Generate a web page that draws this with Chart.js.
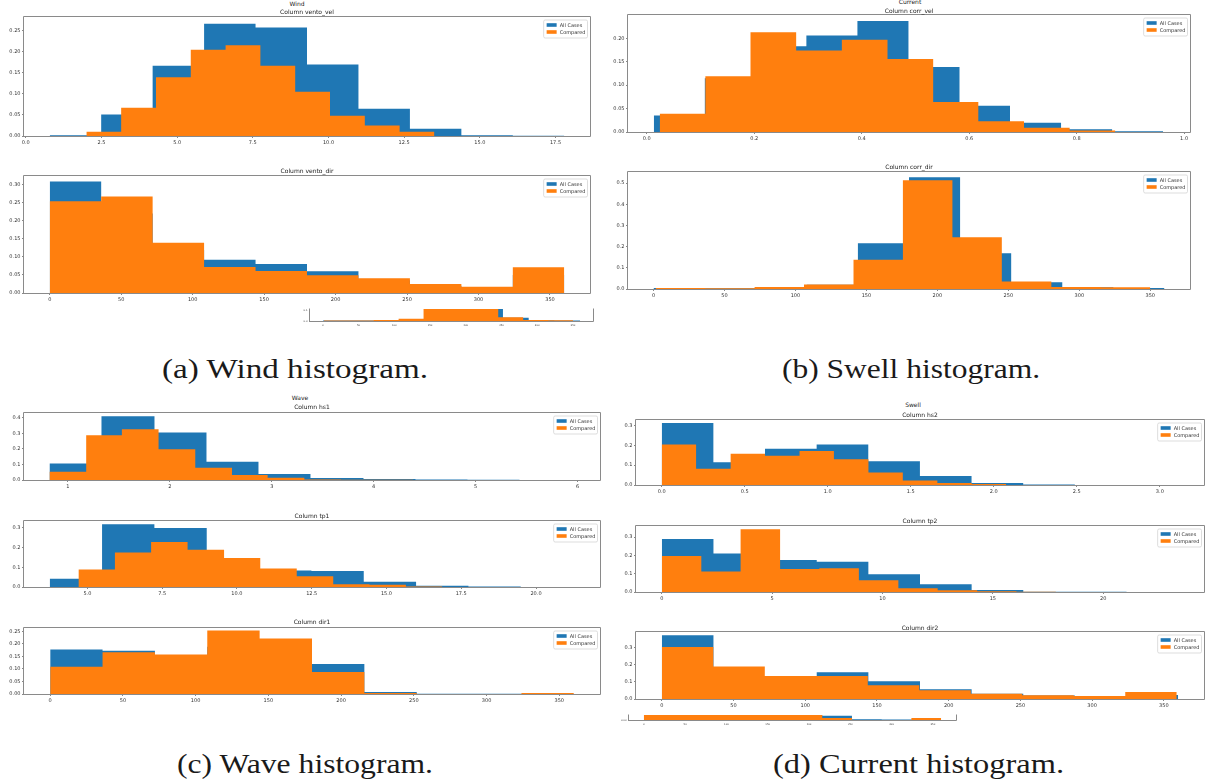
<!DOCTYPE html>
<html>
<head>
<meta charset="utf-8">
<script src="https://cdn.jsdelivr.net/npm/chart.js@4.4.1/dist/chart.umd.min.js"></script>
<style>
  html, body { margin: 0; padding: 0; background: #fff; }
  body { width: 1208px; height: 783px; position: relative; overflow: hidden; font-family: "DejaVu Sans", sans-serif; }
  canvas { position: absolute; }
  .t { position: absolute; transform: translate(-50%, -50%); white-space: nowrap; color: #222; line-height: 1; font-family: "DejaVu Sans", sans-serif; }
  .cap { position: absolute; white-space: nowrap; font-family: "Liberation Serif", serif; font-size: 28px; line-height: 28px; color: #1a1a1a; transform-origin: 0 0; }
</style>
</head>
<body>
<script>
// ---- series names -------------------------------------------------------
const seriesNames = ['All Cases', 'Compared'];

// ---- Wind: vento_vel (bin edges and fraction per bin) --------------------
const windVelEdgesAll = [0.79, 2.49, 4.19, 5.89, 7.59, 9.29, 10.99, 12.69, 14.39, 16.09, 17.79];
const windVelAll      = [0.002, 0.051, 0.167, 0.267, 0.258, 0.170, 0.065, 0.017, 0.002, 0.0005];
const windVelEdgesCmp = [2.0, 3.15, 4.3, 5.45, 6.6, 7.75, 8.9, 10.05, 11.2, 12.35, 13.5];
const windVelCmp      = [0.010, 0.067, 0.140, 0.205, 0.216, 0.167, 0.105, 0.048, 0.025, 0.010];

// ---- Wind: vento_dir ------------------------------------------------------
const dirEdges   = [0, 36, 72, 108, 144, 180, 216, 252, 288, 324, 360];
const windDirAll = [0.309, 0.220, 0.120, 0.092, 0.080, 0.060, 0.035, 0.020, 0.014, 0.050];
const windDirCmp = [0.254, 0.267, 0.139, 0.072, 0.061, 0.049, 0.041, 0.025, 0.017, 0.071];

// ---- Current: corr_vel ----------------------------------------------------
const corrVelEdgesAll = [0.013, 0.108, 0.203, 0.297, 0.392, 0.487, 0.582, 0.676, 0.771, 0.866, 0.961];
const corrVelAll      = [0.035, 0.115, 0.183, 0.206, 0.237, 0.139, 0.056, 0.020, 0.006, 0.0015];
const corrVelEdgesCmp = [0.024, 0.109, 0.193, 0.278, 0.363, 0.448, 0.533, 0.617, 0.702, 0.787, 0.872];
const corrVelCmp      = [0.039, 0.119, 0.213, 0.174, 0.197, 0.156, 0.064, 0.023, 0.009, 0.003];

// ---- Current: corr_dir ----------------------------------------------------
const corrDirAll      = [0.005, 0.004, 0.008, 0.020, 0.216, 0.527, 0.169, 0.032, 0.008, 0.005];
const corrDirEdgesCmp = [1.5, 36.3, 71.2, 106.0, 140.9, 175.7, 210.6, 245.4, 280.3, 315.1, 350.0];
const corrDirCmp      = [0.005, 0.004, 0.009, 0.021, 0.138, 0.513, 0.244, 0.035, 0.010, 0.008];

// ---- Wave: hs1 ------------------------------------------------------------
const hs1EdgesAll = [0.82, 1.33, 1.85, 2.36, 2.87, 3.38, 3.90, 4.41, 4.92, 5.43, 5.94];
const hs1All      = [0.107, 0.411, 0.306, 0.118, 0.0385, 0.013, 0.006, 0.003, 0.001, 0.0005];
const hs1EdgesCmp = [0.82, 1.18, 1.53, 1.89, 2.25, 2.61, 2.96, 3.32, 3.68, 4.03, 4.39];
const hs1Cmp      = [0.053, 0.289, 0.327, 0.199, 0.079, 0.032, 0.015, 0.003, 0.001, 0.001];

// ---- Wave: tp1 ------------------------------------------------------------
const tp1EdgesAll = [3.74, 5.49, 7.24, 8.99, 10.74, 12.49, 14.24, 15.99, 17.74, 19.49, 21.24];
const tp1All      = [0.042, 0.317, 0.298, 0.143, 0.083, 0.081, 0.027, 0.0067, 0.002, 0.0005];
const tp1EdgesCmp = [4.70, 5.92, 7.13, 8.35, 9.57, 10.78, 12.00, 13.22, 14.43, 15.65, 16.87];
const tp1Cmp      = [0.089, 0.174, 0.228, 0.189, 0.147, 0.094, 0.054, 0.0135, 0.012, 0.003];

// ---- Wave: dir1 -----------------------------------------------------------
const dir1All = [0.177, 0.172, 0.145, 0.188, 0.187, 0.120, 0.008, 0.0013, 0.001, 0.001];
const dir1Cmp = [0.109, 0.166, 0.157, 0.253, 0.221, 0.088, 0.004, 0, 0, 0.004];

// ---- Swell: hs2 -----------------------------------------------------------
const hs2EdgesAll = [0, 0.311, 0.622, 0.933, 1.244, 1.555, 1.866, 2.177, 2.488, 2.799, 3.11];
const hs2All      = [0.313, 0.115, 0.183, 0.205, 0.120, 0.045, 0.010, 0.002, 0.0005, 0.0005];
const hs2EdgesCmp = [0, 0.207, 0.415, 0.622, 0.830, 1.037, 1.245, 1.452, 1.660, 1.867, 2.075];
const hs2Cmp      = [0.205, 0.082, 0.158, 0.147, 0.172, 0.130, 0.063, 0.023, 0.010, 0.005];

// ---- Swell: tp2 -----------------------------------------------------------
const tp2EdgesAll = [0, 2.34, 4.68, 7.02, 9.36, 11.70, 14.04, 16.38, 18.72, 21.06, 23.40];
const tp2All      = [0.289, 0.210, 0.174, 0.165, 0.097, 0.042, 0.011, 0.001, 0.0008, 0.0002];
const tp2EdgesCmp = [0, 1.79, 3.57, 5.36, 7.14, 8.93, 10.72, 12.50, 14.29, 16.07, 17.86];
const tp2Cmp      = [0.196, 0.112, 0.342, 0.126, 0.130, 0.064, 0.020, 0.009, 0.004, 0.002];

// ---- Swell: dir2 ----------------------------------------------------------
const dir2EdgesCmp = [0, 35.9, 71.8, 107.7, 143.6, 179.5, 215.4, 251.3, 287.2, 323.1, 359];
const dir2All = [0.373, 0.120, 0.100, 0.157, 0.104, 0.057, 0.030, 0.020, 0.015, 0.024];
const dir2Cmp = [0.304, 0.190, 0.135, 0.135, 0.080, 0.051, 0.031, 0.022, 0.018, 0.041];

// ---- tick positions and labels ---------------------------------------------
const windVelXTicks = [0, 2.5, 5, 7.5, 10, 12.5, 15, 17.5];
const windVelXLabels = ['0.0', '2.5', '5.0', '7.5', '10.0', '12.5', '15.0', '17.5'];
const dirXTicks = [0, 50, 100, 150, 200, 250, 300, 350];
const dirXLabels = ['0', '50', '100', '150', '200', '250', '300', '350'];
const corrVelXTicks = [0, 0.2, 0.4, 0.6, 0.8, 1.0];
const corrVelXLabels = ['0.0', '0.2', '0.4', '0.6', '0.8', '1.0'];
const hs1XTicks = [1, 2, 3, 4, 5, 6];
const hs1XLabels = ['1', '2', '3', '4', '5', '6'];
const tp1XTicks = [5, 7.5, 10, 12.5, 15, 17.5, 20];
const tp1XLabels = ['5.0', '7.5', '10.0', '12.5', '15.0', '17.5', '20.0'];
const hs2XTicks = [0, 0.5, 1, 1.5, 2, 2.5, 3];
const hs2XLabels = ['0.0', '0.5', '1.0', '1.5', '2.0', '2.5', '3.0'];
const tp2XTicks = [0, 5, 10, 15, 20];
const tp2XLabels = ['0', '5', '10', '15', '20'];

const y025Ticks = [0, 0.05, 0.10, 0.15, 0.20, 0.25];
const y025Labels = ['0.00', '0.05', '0.10', '0.15', '0.20', '0.25'];
const y030Ticks = [0, 0.05, 0.10, 0.15, 0.20, 0.25, 0.30];
const y030Labels = ['0.00', '0.05', '0.10', '0.15', '0.20', '0.25', '0.30'];
const y020Ticks = [0, 0.05, 0.10, 0.15, 0.20];
const y020Labels = ['0.00', '0.05', '0.10', '0.15', '0.20'];
const y05Ticks = [0, 0.1, 0.2, 0.3, 0.4, 0.5];
const y05Labels = ['0.0', '0.1', '0.2', '0.3', '0.4', '0.5'];
const y04Ticks = [0, 0.1, 0.2, 0.3, 0.4];
const y04Labels = ['0.0', '0.1', '0.2', '0.3', '0.4'];
const y03Ticks = [0, 0.1, 0.2, 0.3];
const y03Labels = ['0.0', '0.1', '0.2', '0.3'];
const y01Ticks = [0, 0.1];
const y01Labels = ['0.0', '0.1'];
const y00Ticks = [0];
const y00Labels = ['0.00'];

// ---- titles and captions -------------------------------------------------
const titleTexts = ['Wind', 'Column vento_vel', 'Column vento_dir', 'Current', 'Column corr_vel', 'Column corr_dir',
                    'Wave', 'Column hs1', 'Column tp1', 'Column dir1', 'Swell', 'Column hs2', 'Column tp2', 'Column dir2'];
const captionTexts = ['(a) Wind histogram.', '(b) Swell histogram.', '(c) Wave histogram.', '(d) Current histogram.'];

// ============================================================================
const BLUE = '#1f77b4';
const ORANGE = '#ff7f0e';

// bin edges + per-bin values -> step outline points
function steps(edges, values) {
  const pts = values.map((v, i) => ({ x: edges[i], y: v }));
  pts.push({ x: edges[edges.length - 1], y: values[values.length - 1] });
  return pts;
}

function drawLegend(chart, fs) {
  const { ctx, chartArea: a } = chart;
  const ds = chart.data.datasets;
  ctx.save();
  ctx.font = fs + 'px "DejaVu Sans"';
  const tw = Math.max(...ds.map(d => ctx.measureText(d.label).width));
  const pad = 3, hl = 10, gap = 3, rowH = 7;
  const w = pad + hl + gap + tw + 2;
  const h = pad + rowH * ds.length + 1;
  const x = a.right - 2.5 - w, y = a.top + 3;
  ctx.beginPath();
  ctx.roundRect(x, y, w, h, 1.5);
  ctx.fillStyle = 'rgba(255,255,255,0.85)';
  ctx.fill();
  ctx.strokeStyle = '#d4d4d4';
  ctx.lineWidth = 0.8;
  ctx.stroke();
  ctx.textBaseline = 'middle';
  ds.forEach((d, i) => {
    const cy = y + pad + 2 + i * rowH;
    ctx.fillStyle = d.backgroundColor;
    ctx.fillRect(x + pad, cy - 1.8, hl, 3.6);
    ctx.fillStyle = '#333';
    ctx.fillText(d.label, x + pad + hl + gap, cy + 0.3);
  });
  ctx.restore();
}

// axes spines (open at the top for the clipped inset strips) and legend
const framePlugin = {
  id: 'frame',
  afterDatasetsDraw(chart, args, opts) {
    const { ctx, chartArea: a } = chart;
    if (opts.legend) drawLegend(chart, opts.legendFont);
    const l = Math.round(a.left) - 0.5, t = Math.round(a.top) - 0.5;
    const r = Math.round(a.right) + 0.5, b = Math.round(a.bottom) + 0.5;
    ctx.save();
    ctx.strokeStyle = '#8a8a8a';
    ctx.lineWidth = 1;
    ctx.beginPath();
    if (opts.openTop) {
      ctx.moveTo(l, t); ctx.lineTo(l, b); ctx.lineTo(r, b); ctx.lineTo(r, t);
    } else {
      ctx.rect(l, t, r - l, b - t);
    }
    ctx.stroke();
    ctx.restore();
  }
};

function axis(kind, min, max, ticks, labels, fs, tickLen, reserve) {
  return {
    type: 'linear',
    min, max,
    afterBuildTicks: s => { s.ticks = ticks.map(v => ({ value: v })); },
    ticks: {
      autoSkip: false, maxRotation: 0, minRotation: 0,
      padding: 1.5,
      color: '#333',
      font: { family: 'DejaVu Sans', size: fs },
      callback: v => labels[ticks.indexOf(v)]
    },
    grid: { display: true, drawOnChartArea: false, drawTicks: true, tickLength: tickLen, color: '#888', lineWidth: 1 },
    border: { display: false },
    afterFit: s => { if (kind === 'x') s.height = reserve; else s.width = reserve; }
  };
}

function panel(p) {
  const padL = p.small ? 14 : 24, padT = 6, padR = 10, padB = p.small ? 7 : 12;
  const [l, t, r, b] = p.box;
  const cv = document.createElement('canvas');
  const W = r - l + padL + padR, H = b - t + padT + padB;
  cv.width = W; cv.height = H;
  cv.style.left = (l - padL) + 'px';
  cv.style.top = (t - padT) + 'px';
  cv.style.width = W + 'px'; cv.style.height = H + 'px';
  document.body.appendChild(cv);
  const fs = p.small ? 2.5 : 5;
  const tl = p.small ? 1 : 2;
  new Chart(cv, {
    type: 'line',
    data: {
      datasets: [
        { label: seriesNames[0], data: steps(p.all[0], p.all[1]), stepped: true, fill: 'origin',
          backgroundColor: BLUE, borderColor: 'rgba(0,0,0,0)', borderWidth: 0, pointRadius: 0, order: 2 },
        { label: seriesNames[1], data: steps(p.cmp[0], p.cmp[1]), stepped: true, fill: 'origin',
          backgroundColor: ORANGE, borderColor: 'rgba(0,0,0,0)', borderWidth: 0, pointRadius: 0, order: 1 }
      ]
    },
    options: {
      responsive: false,
      animation: false,
      events: [],
      devicePixelRatio: 1,
      layout: { padding: { left: 0, top: padT, right: padR, bottom: 0 } },
      scales: {
        x: axis('x', p.xr[0], p.xr[1], p.xt, p.xl, fs, tl, padB),
        y: axis('y', 0, p.yMax, p.yt, p.yl, fs, tl, padL)
      },
      plugins: {
        legend: { display: false },
        tooltip: { enabled: false },
        frame: { legend: !p.small, legendFont: 5, openTop: !!p.small }
      }
    },
    plugins: [framePlugin]
  });
}

const panels = [
  { box: [24, 17, 590, 136], xr: [-0.06, 18.64], yMax: 0.283, xt: windVelXTicks, xl: windVelXLabels, yt: y025Ticks, yl: y025Labels,
    all: [windVelEdgesAll, windVelAll], cmp: [windVelEdgesCmp, windVelCmp] },
  { box: [24, 176, 590, 293], xr: [-18, 378], yMax: 0.324, xt: dirXTicks, xl: dirXLabels, yt: y030Ticks, yl: y030Labels,
    all: [dirEdges, windDirAll], cmp: [dirEdges, windDirCmp] },
  { box: [310, 309, 593, 321], xr: [-18, 378], yMax: 0.115, xt: dirXTicks, xl: dirXLabels, yt: y01Ticks, yl: y01Labels,
    all: [dirEdges, corrDirAll], cmp: [corrDirEdgesCmp, corrDirCmp], small: true },
  { box: [628, 15, 1190, 132], xr: [-0.035, 1.011], yMax: 0.250, xt: corrVelXTicks, xl: corrVelXLabels, yt: y020Ticks, yl: y020Labels,
    all: [corrVelEdgesAll, corrVelAll], cmp: [corrVelEdgesCmp, corrVelCmp] },
  { box: [628, 172, 1190, 289], xr: [-18, 378], yMax: 0.552, xt: dirXTicks, xl: dirXLabels, yt: y05Ticks, yl: y05Labels,
    all: [dirEdges, corrDirAll], cmp: [corrDirEdgesCmp, corrDirCmp] },
  { box: [24, 413, 600, 480], xr: [0.57, 6.22], yMax: 0.432, xt: hs1XTicks, xl: hs1XLabels, yt: y04Ticks, yl: y04Labels,
    all: [hs1EdgesAll, hs1All], cmp: [hs1EdgesCmp, hs1Cmp] },
  { box: [24, 521, 600, 587], xr: [2.88, 22.14], yMax: 0.334, xt: tp1XTicks, xl: tp1XLabels, yt: y03Ticks, yl: y03Labels,
    all: [tp1EdgesAll, tp1All], cmp: [tp1EdgesCmp, tp1Cmp] },
  { box: [24, 628, 600, 694], xr: [-18, 378], yMax: 0.263, xt: dirXTicks, xl: dirXLabels, yt: y025Ticks, yl: y025Labels,
    all: [dirEdges, dir1All], cmp: [dirEdges, dir1Cmp] },
  { box: [636, 420, 1204, 485], xr: [-0.155, 3.266], yMax: 0.328, xt: hs2XTicks, xl: hs2XLabels, yt: y03Ticks, yl: y03Labels,
    all: [hs2EdgesAll, hs2All], cmp: [hs2EdgesCmp, hs2Cmp] },
  { box: [636, 526, 1204, 592], xr: [-1.17, 24.57], yMax: 0.36, xt: tp2XTicks, xl: tp2XLabels, yt: y03Ticks, yl: y03Labels,
    all: [tp2EdgesAll, tp2All], cmp: [tp2EdgesCmp, tp2Cmp] },
  { box: [636, 632, 1204, 699], xr: [-18, 378], yMax: 0.392, xt: dirXTicks, xl: dirXLabels, yt: y03Ticks, yl: y03Labels,
    all: [dirEdges, dir2All], cmp: [dir2EdgesCmp, dir2Cmp] },
  { box: [629, 715, 956, 720], xr: [-18, 378], yMax: 0.0095, xt: dirXTicks, xl: dirXLabels, yt: y00Ticks, yl: y00Labels,
    all: [dirEdges, dir1All], cmp: [dirEdges, dir1Cmp], small: true }
];
panels.forEach(panel);

// figure and axes titles (centre x, centre y, size)
const titlePos = [[297, 3.5, 6], [307, 12, 6], [307, 170.5, 6], [910, 1.5, 6], [909, 10.5, 6], [909, 166.5, 6],
                  [300, 398, 6], [312, 406.5, 6], [312, 515.5, 6], [312, 622, 6], [913, 405, 6], [920, 414.5, 6], [920, 521, 6], [920, 627.5, 6]];
titleTexts.forEach((txt, i) => {
  const d = document.createElement('div');
  d.className = 't';
  d.textContent = txt;
  d.style.left = titlePos[i][0] + 'px';
  d.style.top = titlePos[i][1] + 'px';
  d.style.fontSize = titlePos[i][2] + 'px';
  document.body.appendChild(d);
});

// sub-figure captions (left, right, centre y)
const capPos = [[162, 428, 370], [782, 1040, 370], [177, 433, 765], [773, 1064, 765]];
captionTexts.forEach((txt, i) => {
  const d = document.createElement('div');
  d.className = 'cap';
  d.textContent = txt;
  document.body.appendChild(d);
  const w = d.getBoundingClientRect().width;
  const [l, r, cy] = capPos[i];
  d.style.left = l + 'px';
  d.style.top = (cy - 15) + 'px';
  d.style.transform = 'scaleX(' + ((r - l) / w).toFixed(4) + ')';
});
</script>
</body>
</html>
